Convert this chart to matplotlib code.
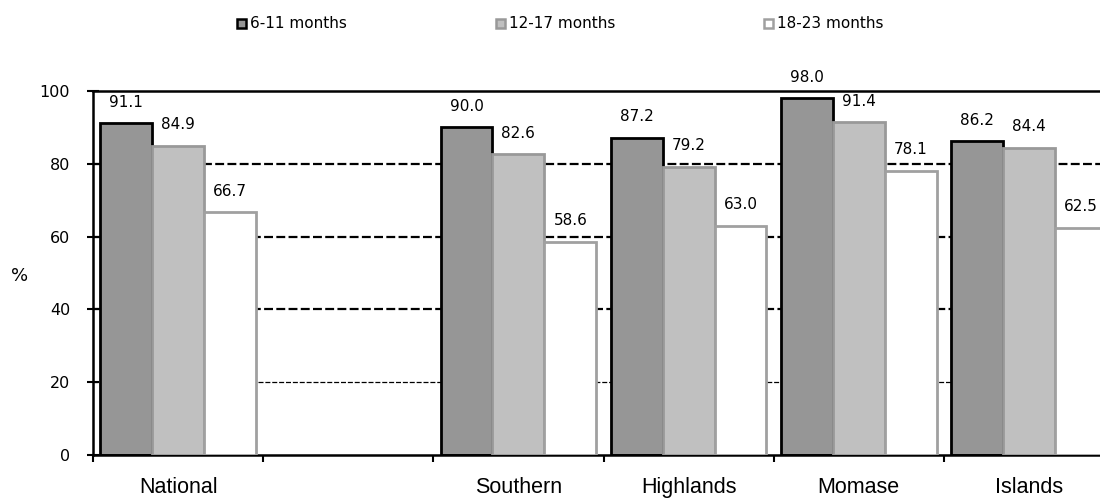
import matplotlib

matplotlib.use("Agg")
import matplotlib.pyplot as plt
import numpy as np
from matplotlib.patches import Rectangle

plt.rcParams["font.family"] = ["DejaVu Sans"]

# Regions (one blank slot separates the national figure from the regions)
regions = ["National", "", "Southern", "Highlands", "Momase", "Islands"]
age_groups = ["6-11 months", "12-17 months", "18-23 months"]
pct_6_11 = [91.1, None, 90.0, 87.2, 98.0, 86.2]
pct_12_17 = [84.9, None, 82.6, 79.2, 91.4, 84.4]
pct_18_23 = [66.7, None, 58.6, 63.0, 78.1, 62.5]

fills = ["#969696", "#c0c0c0", "#ffffff"]
edges = ["#000000", "#999999", "#a0a0a0"]

W, H = 1100, 499
fig = plt.figure(figsize=(W / 100, H / 100), dpi=100)
ax = fig.add_axes([93 / W, 44 / H, 1021 / W, 364 / H])

x = np.arange(len(regions))
width = 0.305
series = [pct_6_11, pct_12_17, pct_18_23]

# dashed gridlines behind the bars
for yv, lw in [(20, 0.9), (40, 1.6), (60, 1.6), (80, 1.6)]:
    ax.axhline(yv, color="black", lw=lw, ls=(0, (4, 1.5)), zorder=0)

for k, vals in enumerate(series):
    xs = [xi + (k - 1) * width for xi, v in zip(x, vals) if v is not None]
    ys = [v for v in vals if v is not None]
    ax.bar(xs, ys, width=width, color=fills[k], edgecolor=edges[k],
           linewidth=2, zorder=2 + k)
    for xi, v in zip(xs, ys):
        ax.text(xi, v + 3.7, f"{v:.1f}", ha="center", va="bottom",
                fontsize=11, zorder=10)

ax.set_xlim(-0.5, len(regions) - 0.5)
ax.set_ylim(0, 100)
ax.set_yticks(range(0, 101, 20))
ax.tick_params(axis="y", direction="inout", length=9, width=1.5,
               labelsize=11.5, pad=12)
ax.set_xticks(np.arange(len(regions) + 1) - 0.5, minor=True)
ax.set_xticks(x)
ax.set_xticklabels(regions, fontsize=15.5, family="Liberation Sans")
ax.tick_params(axis="x", which="major", length=0, pad=16)
ax.tick_params(axis="x", which="minor", direction="out", length=5, width=1.5)
for side in ["left", "bottom", "top"]:
    ax.spines[side].set_linewidth(1.8)
ax.spines["right"].set_visible(False)

fig.text(20 / W, 1 - 276 / H, "%", fontsize=13, ha="center", va="center")

# legend row along the top edge
legend_x = [237, 496, 764]
for lx, lab, f, e in zip(legend_x, age_groups, fills, edges):
    fig.add_artist(Rectangle((lx / W, 1 - 28 / H), 9 / W, 9 / H,
                             facecolor=f, edgecolor=e, linewidth=1.8,
                             transform=fig.transFigure))
    fig.text((lx + 13) / W, 1 - 23 / H, lab, fontsize=11, ha="left",
             va="center")

fig.savefig("out.png", dpi=100)
